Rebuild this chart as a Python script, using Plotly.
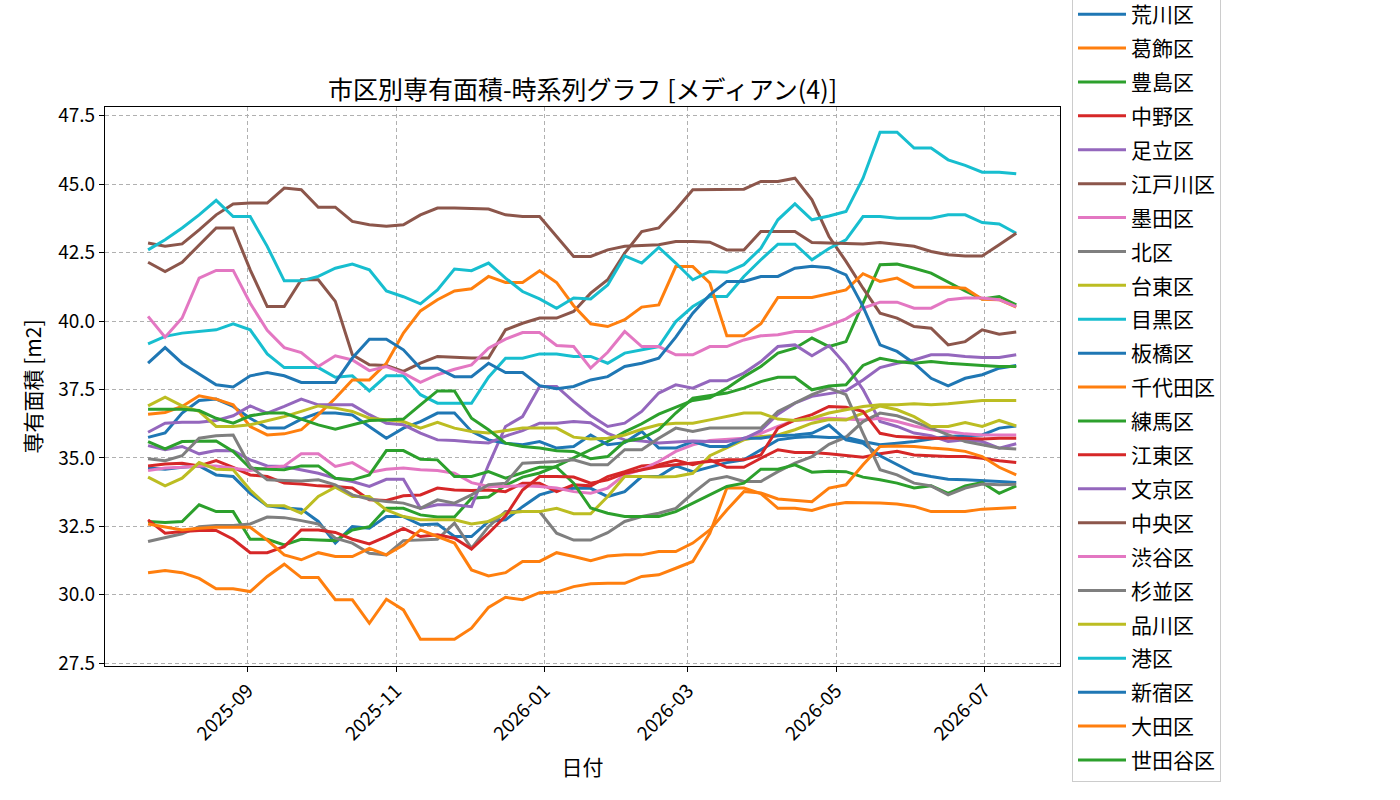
import pandas as pd
import plotly.graph_objects as go

# ---- data (weekly) ----
dates = pd.date_range("2025-07-22", periods=52, freq="7D")

arakawa = [34.63, 34.59, 34.66, 34.71, 34.38, 34.32, 33.71, 33.25, 33.17, 33.13, 32.68, 31.89,
           32.49, 32.43, 32.86, 32.86, 32.56, 32.59, 32.13, 32.13, 32.68, 32.74, 33.22, 33.65, 33.83, 33.89,
           33.89, 33.59, 33.77, 34.32, 34.32, 34.71, 34.50, 34.66, 34.83, 34.93, 35.30, 35.66, 35.75, 35.78,
           35.75, 35.76, 35.60, 35.48, 35.54, 35.60, 35.69, 35.78, 35.81, 35.84, 36.09, 36.17]
katsushika = [30.81, 30.89, 30.81, 30.60, 30.22, 30.22, 30.12, 30.67, 31.12, 30.63, 30.63, 29.82,
              29.82, 28.96, 29.84, 29.45, 28.38, 28.38, 28.38, 28.78, 29.54, 29.91, 29.82, 30.08, 30.10, 30.30,
              30.40, 30.42, 30.42, 30.67, 30.73, 30.97, 31.22, 32.25, 33.90, 33.90, 33.70, 33.16, 33.16, 33.08,
              33.27, 33.37, 33.37, 33.35, 33.32, 33.23, 33.04, 33.04, 33.04, 33.13, 33.16, 33.19]
toshima = [32.68, 32.64, 32.68, 33.29, 33.04, 33.04, 32.03, 32.03, 31.82, 32.03, 32.00, 31.98,
           32.37, 32.49, 33.16, 33.16, 32.92, 32.84, 32.84, 33.53, 33.57, 34.00, 34.30, 34.45, 34.70, 35.00,
           35.30, 35.60, 35.95, 36.25, 36.60, 36.85, 37.10, 37.20, 37.55, 37.97, 38.34, 38.83, 39.01, 39.38,
           39.07, 39.25, 40.65, 42.06, 42.08, 41.93, 41.75, 41.41, 41.10, 40.81, 40.90, 40.59]
nakano = [34.71, 34.78, 34.81, 34.71, 34.90, 34.66, 34.38, 34.32, 34.08, 34.05, 33.98, 33.96,
          33.90, 33.47, 33.45, 33.62, 33.65, 33.90, 33.83, 33.81, 33.83, 33.77, 34.08, 34.08, 33.77, 34.02,
          33.98, 34.32, 34.50, 34.71, 34.75, 34.91, 34.75, 34.93, 34.66, 34.66, 34.99, 35.30, 35.20, 35.20,
          35.15, 35.08, 35.03, 35.15, 35.24, 35.11, 35.08, 35.05, 35.05, 34.99, 34.90, 34.83]
adachi = [35.45, 35.30, 35.42, 35.15, 35.27, 35.26, 34.93, 34.71, 34.69, 34.57, 34.44, 34.26,
          34.14, 33.96, 34.22, 34.22, 33.16, 33.29, 33.29, 33.22, 34.75, 36.15, 36.51, 37.61, 37.61, 37.06,
          36.55, 36.15, 36.27, 36.70, 37.37, 37.67, 37.55, 37.82, 37.82, 38.10, 38.52, 39.07, 39.13, 38.73,
          39.10, 38.40, 37.50, 36.33, 36.15, 35.91, 35.81, 35.60, 35.66, 35.60, 35.36, 35.52]
edogawa = [42.15, 41.81, 42.15, 42.79, 43.40, 43.40, 41.87, 40.53, 40.53, 41.51, 41.51, 40.72,
           38.77, 38.40, 38.38, 38.16, 38.46, 38.71, 38.67, 38.65, 38.65, 39.68, 39.92, 40.11, 40.11, 40.35,
           41.02, 41.51, 42.48, 43.27, 43.40, 44.07, 44.80, 44.80, 44.82, 44.82, 45.10, 45.10, 45.22, 44.43,
           43.09, 42.18, 41.20, 40.29, 40.11, 39.80, 39.74, 39.13, 39.25, 39.68, 39.52, 39.60]
sumida = [34.54, 34.63, 34.66, 34.71, 34.71, 34.63, 34.54, 34.63, 34.71, 35.15, 35.15, 34.69,
          34.83, 34.47, 34.59, 34.63, 34.57, 34.54, 34.44, 34.10, 33.96, 33.96, 33.98, 33.96, 33.90, 33.77,
          33.71, 33.90, 34.38, 34.57, 34.87, 35.24, 35.48, 35.64, 35.69, 35.72, 35.90, 36.15, 36.37, 36.42,
          36.45, 36.42, 36.39, 36.45, 36.33, 36.17, 36.03, 35.97, 35.88, 35.84, 35.84, 35.84]
kita = [31.95, 32.09, 32.23, 32.49, 32.53, 32.53, 32.59, 32.84, 32.82, 32.71, 32.59, 32.07,
        31.89, 31.52, 31.46, 31.98, 32.00, 32.03, 32.62, 31.70, 32.49, 33.04, 33.04, 33.04, 32.25, 32.00,
        32.00, 32.27, 32.68, 32.86, 32.98, 33.16, 33.71, 34.20, 34.32, 34.14, 34.14, 34.50, 34.81, 35.05,
        35.50, 35.76, 36.33, 36.64, 36.54, 36.33, 36.09, 35.84, 35.60, 35.48, 35.36, 35.33]
taito = [34.30, 33.98, 34.26, 34.83, 34.59, 34.57, 33.83, 33.25, 33.25, 32.98, 33.59, 33.93,
         33.59, 33.59, 33.10, 32.86, 32.74, 32.74, 32.74, 32.59, 32.68, 32.98, 33.04, 33.04, 33.16, 32.96,
         32.96, 33.59, 34.32, 34.32, 34.30, 34.32, 34.44, 35.08, 35.36, 35.66, 35.78, 35.84, 36.03, 36.27,
         36.40, 36.39, 36.64, 36.90, 36.76, 36.51, 36.15, 36.15, 36.29, 36.15, 36.37, 36.17]
meguro = [39.17, 39.44, 39.56, 39.62, 39.68, 39.90, 39.68, 38.80, 38.30, 38.30, 38.30, 37.95,
          38.00, 37.45, 38.00, 38.00, 37.31, 37.00, 37.00, 37.00, 37.95, 38.64, 38.64, 38.80, 38.80, 38.71,
          38.71, 38.46, 38.83, 38.95, 39.07, 39.98, 40.53, 40.90, 40.90, 41.63, 42.24, 42.81, 42.81, 42.24,
          42.65, 42.97, 43.82, 43.82, 43.76, 43.76, 43.76, 43.88, 43.88, 43.60, 43.55, 43.21]
itabashi = [35.75, 35.91, 36.64, 37.10, 37.15, 36.88, 36.45, 36.09, 36.09, 36.42, 36.64, 36.64,
            36.57, 36.15, 35.72, 36.09, 36.33, 36.64, 36.64, 35.97, 35.66, 35.54, 35.48, 35.60, 35.36, 35.42,
            35.84, 35.48, 35.56, 35.97, 35.36, 35.36, 35.60, 35.42, 35.42, 35.72, 35.72, 35.81, 35.84, 35.90,
            36.20, 35.66, 35.54, 35.08, 34.75, 34.44, 34.32, 34.22, 34.20, 34.18, 34.14, 34.10]
chiyoda = [36.60, 36.66, 36.88, 37.27, 37.15, 36.94, 36.15, 35.84, 35.88, 36.03, 36.58, 37.18,
           37.85, 37.85, 38.46, 39.56, 40.37, 40.78, 41.10, 41.18, 41.63, 41.41, 41.41, 41.84, 41.41, 40.56,
           39.90, 39.80, 40.05, 40.51, 40.59, 41.99, 41.99, 41.39, 39.46, 39.46, 39.90, 40.86, 40.86, 40.86,
           41.00, 41.14, 41.73, 41.45, 41.57, 41.24, 41.24, 41.24, 41.20, 40.80, 40.78, 40.51]
nerima = [35.60, 35.33, 35.60, 35.62, 35.62, 35.24, 34.63, 34.59, 34.57, 34.71, 34.71, 34.26,
          34.20, 34.38, 35.27, 35.27, 34.95, 34.93, 34.32, 34.32, 34.50, 34.26, 34.47, 34.66, 34.66, 34.08,
          33.17, 32.98, 32.86, 32.86, 32.86, 33.04, 33.35, 33.65, 33.96, 34.08, 34.59, 34.59, 34.75, 34.48,
          34.51, 34.50, 34.30, 34.20, 34.08, 33.90, 33.98, 33.71, 33.98, 34.10, 33.71, 33.98]
koto = [32.74, 32.25, 32.31, 32.35, 32.35, 32.03, 31.54, 31.54, 31.76, 32.37, 32.37, 32.28,
        32.03, 31.86, 32.13, 32.43, 32.13, 32.19, 32.07, 31.67, 32.25, 32.88, 33.83, 34.32, 34.32, 34.30,
        34.08, 34.20, 34.44, 34.57, 34.69, 34.75, 34.81, 34.87, 34.93, 34.93, 35.11, 36.09, 36.39, 36.58,
        36.88, 36.85, 36.70, 35.90, 35.78, 35.76, 35.72, 35.72, 35.72, 35.69, 35.72, 35.72]
bunkyo = [35.94, 36.27, 36.30, 36.30, 36.37, 36.54, 36.90, 36.64, 36.88, 37.15, 36.94, 36.94,
          36.94, 36.58, 36.27, 36.21, 35.91, 35.66, 35.64, 35.58, 35.55, 35.80, 36.00, 36.27, 36.27, 36.33,
          36.29, 35.90, 35.66, 35.62, 35.55, 35.58, 35.62, 35.60, 35.60, 35.70, 36.00, 36.60, 37.00, 37.25,
          37.34, 37.45, 37.85, 38.30, 38.46, 38.58, 38.77, 38.77, 38.71, 38.67, 38.67, 38.77]
chuo = [42.85, 42.73, 42.82, 43.33, 43.88, 44.28, 44.31, 44.31, 44.86, 44.80, 44.16, 44.16,
        43.64, 43.52, 43.46, 43.52, 43.88, 44.13, 44.13, 44.10, 44.09, 43.88, 43.82, 43.82, 43.09, 42.36,
        42.36, 42.60, 42.73, 42.75, 42.79, 42.91, 42.91, 42.88, 42.60, 42.60, 43.27, 43.27, 43.27, 42.87,
        42.85, 42.82, 42.82, 42.87, 42.79, 42.73, 42.54, 42.42, 42.38, 42.38, 42.79, 43.21]
shibuya = [40.17, 39.41, 40.11, 41.57, 41.85, 41.85, 40.65, 39.66, 39.03, 38.85, 38.34, 38.73,
           38.58, 38.19, 38.34, 38.10, 37.76, 38.04, 38.24, 38.40, 39.01, 39.34, 39.58, 39.58, 39.11, 39.07,
           38.28, 38.86, 39.62, 39.07, 39.07, 38.77, 38.77, 39.07, 39.07, 39.31, 39.46, 39.50, 39.62, 39.62,
           39.84, 40.08, 40.47, 40.69, 40.69, 40.47, 40.47, 40.78, 40.84, 40.84, 40.78, 40.53]
suginami = [34.97, 34.90, 35.08, 35.72, 35.81, 35.84, 34.69, 34.20, 34.18, 34.16, 34.20, 34.02,
            33.65, 33.49, 33.41, 33.35, 33.16, 33.47, 33.35, 33.65, 34.02, 34.08, 34.81, 34.83, 34.87, 34.93,
            34.75, 34.75, 35.30, 35.30, 35.72, 36.09, 35.97, 36.09, 36.09, 36.09, 36.09, 36.70, 37.00, 37.31,
            37.55, 37.31, 35.90, 34.57, 34.38, 34.08, 33.98, 33.65, 33.90, 34.05, 34.02, 34.04]
shinagawa = [36.90, 37.22, 36.90, 36.70, 36.15, 36.15, 36.21, 36.37, 36.51, 36.70, 36.90, 36.82,
             36.70, 36.45, 36.39, 36.33, 36.09, 36.30, 36.09, 35.97, 35.91, 36.00, 36.09, 36.09, 36.09, 35.76,
             35.69, 35.72, 35.84, 36.05, 36.21, 36.27, 36.27, 36.39, 36.51, 36.64, 36.64, 36.42, 36.37, 36.45,
             36.64, 36.76, 36.88, 36.94, 36.94, 36.98, 36.94, 36.98, 37.03, 37.10, 37.10, 37.10]
minato = [42.60, 42.97, 43.40, 43.88, 44.41, 43.82, 43.82, 42.73, 41.47, 41.47, 41.63, 41.93,
          42.08, 41.87, 41.10, 40.89, 40.63, 41.14, 41.90, 41.84, 42.12, 41.57, 41.08, 40.81, 40.47, 40.84,
          40.81, 41.32, 42.38, 42.12, 42.69, 42.12, 41.51, 41.81, 41.78, 42.06, 42.66, 43.70, 44.28, 43.70,
          43.84, 44.00, 45.22, 46.90, 46.90, 46.32, 46.32, 45.89, 45.69, 45.44, 45.44, 45.38]
shinjuku = [38.46, 39.03, 38.46, 38.07, 37.67, 37.59, 38.00, 38.12, 38.00, 37.76, 37.76, 37.76,
            38.65, 39.34, 39.34, 38.95, 38.28, 38.28, 37.97, 37.97, 38.46, 38.12, 38.12, 37.64, 37.53, 37.61,
            37.85, 37.97, 38.34, 38.46, 38.64, 39.41, 40.29, 40.96, 41.45, 41.45, 41.63, 41.63, 41.93, 42.00,
            41.95, 41.69, 40.53, 39.13, 38.89, 38.46, 37.91, 37.63, 37.91, 38.04, 38.28, 38.38]
ota = [32.59, 32.49, 32.37, 32.43, 32.47, 32.47, 32.47, 32.00, 31.46, 31.28, 31.54, 31.40,
       31.40, 31.70, 31.46, 31.82, 32.37, 32.13, 31.89, 30.91, 30.69, 30.81, 31.22, 31.22, 31.54, 31.40,
       31.25, 31.42, 31.46, 31.46, 31.58, 31.58, 31.89, 32.37, 33.10, 33.77, 33.72, 33.50, 33.45, 33.40,
       33.90, 34.02, 34.75, 35.42, 35.44, 35.42, 35.36, 35.32, 35.24, 35.05, 34.66, 34.38]
setagaya = [36.78, 36.78, 36.78, 36.73, 36.45, 36.27, 36.54, 36.64, 36.64, 36.42, 36.21, 36.05,
            36.21, 36.37, 36.39, 36.42, 36.94, 37.45, 37.45, 36.45, 36.03, 35.54, 35.42, 35.36, 35.26, 35.24,
            34.97, 35.05, 35.60, 35.72, 36.03, 36.64, 37.18, 37.27, 37.37, 37.55, 37.79, 37.95, 37.95, 37.49,
            37.63, 37.67, 38.38, 38.64, 38.52, 38.46, 38.52, 38.46, 38.43, 38.38, 38.34, 38.34]

ward_names = ["荒川区", "葛飾区", "豊島区", "中野区", "足立区", "江戸川区", "墨田区", "北区",
              "台東区", "目黒区", "板橋区", "千代田区", "練馬区", "江東区", "文京区", "中央区",
              "渋谷区", "杉並区", "品川区", "港区", "新宿区", "大田区", "世田谷区"]
ward_values = [arakawa, katsushika, toshima, nakano, adachi, edogawa, sumida, kita,
               taito, meguro, itabashi, chiyoda, nerima, koto, bunkyo, chuo,
               shibuya, suginami, shinagawa, minato, shinjuku, ota, setagaya]

palette = ["#1f77b4", "#ff7f0e", "#2ca02c", "#d62728", "#9467bd",
           "#8c564b", "#e377c2", "#7f7f7f", "#bcbd22", "#17becf"]

FONT = "Noto Sans CJK JP"

fig = go.Figure()
for k, (name, vals) in enumerate(zip(ward_names, ward_values)):
    fig.add_trace(go.Scatter(
        x=dates, y=vals, mode="lines", name=name, legendgroup=name,
        line=dict(color=palette[k % 10], width=3),
    ))

axis_common = dict(
    showline=True, linecolor="black", linewidth=1.3, mirror=True,
    ticks="outside", ticklen=5, tickcolor="black", tickwidth=1.3,
    showgrid=True, gridcolor="#b0b0b0", griddash="4px,3px", gridwidth=1,
    zeroline=False, tickfont=dict(family=FONT, size=19, color="black"),
)

fig.update_layout(
    width=1400, height=800,
    paper_bgcolor="white", plot_bgcolor="white",
    margin=dict(l=105, r=340, t=107, b=134, autoexpand=False),
    font=dict(family=FONT, color="black"),
    title=dict(text="市区別専有面積-時系列グラフ [メディアン(4)]",
               x=(105 + 1060) / 2 / 1400, xanchor="center", y=1 - 90 / 800, yanchor="middle",
               font=dict(family=FONT, size=25, color="black")),
    xaxis=dict(
        **axis_common,
        type="date", range=["2025-07-04 07:00", "2026-08-01"],
        tick0="2025-09-01", dtick="M2", tickformat="%Y-%m", tickangle=-45,
        title=dict(text="日付", font=dict(family=FONT, size=21), standoff=16),
    ),
    yaxis=dict(
        **axis_common,
        range=[27.40, 47.82], tick0=27.5, dtick=2.5, tickformat=".1f",
        title=dict(text="専有面積 [m2]", font=dict(family=FONT, size=21), standoff=10),
    ),
    legend=dict(
        x=(1072 - 105) / 955, xanchor="left",
        y=1 - (782 - 107) / 559, yanchor="bottom",
        bgcolor="white", bordercolor="#cccccc", borderwidth=1,
        font=dict(family=FONT, size=21, color="black"),
        tracegroupgap=3.6, maxheight=2000, traceorder="grouped", itemwidth=48,
    ),
    showlegend=True,
)

fig.write_html("out.html")
